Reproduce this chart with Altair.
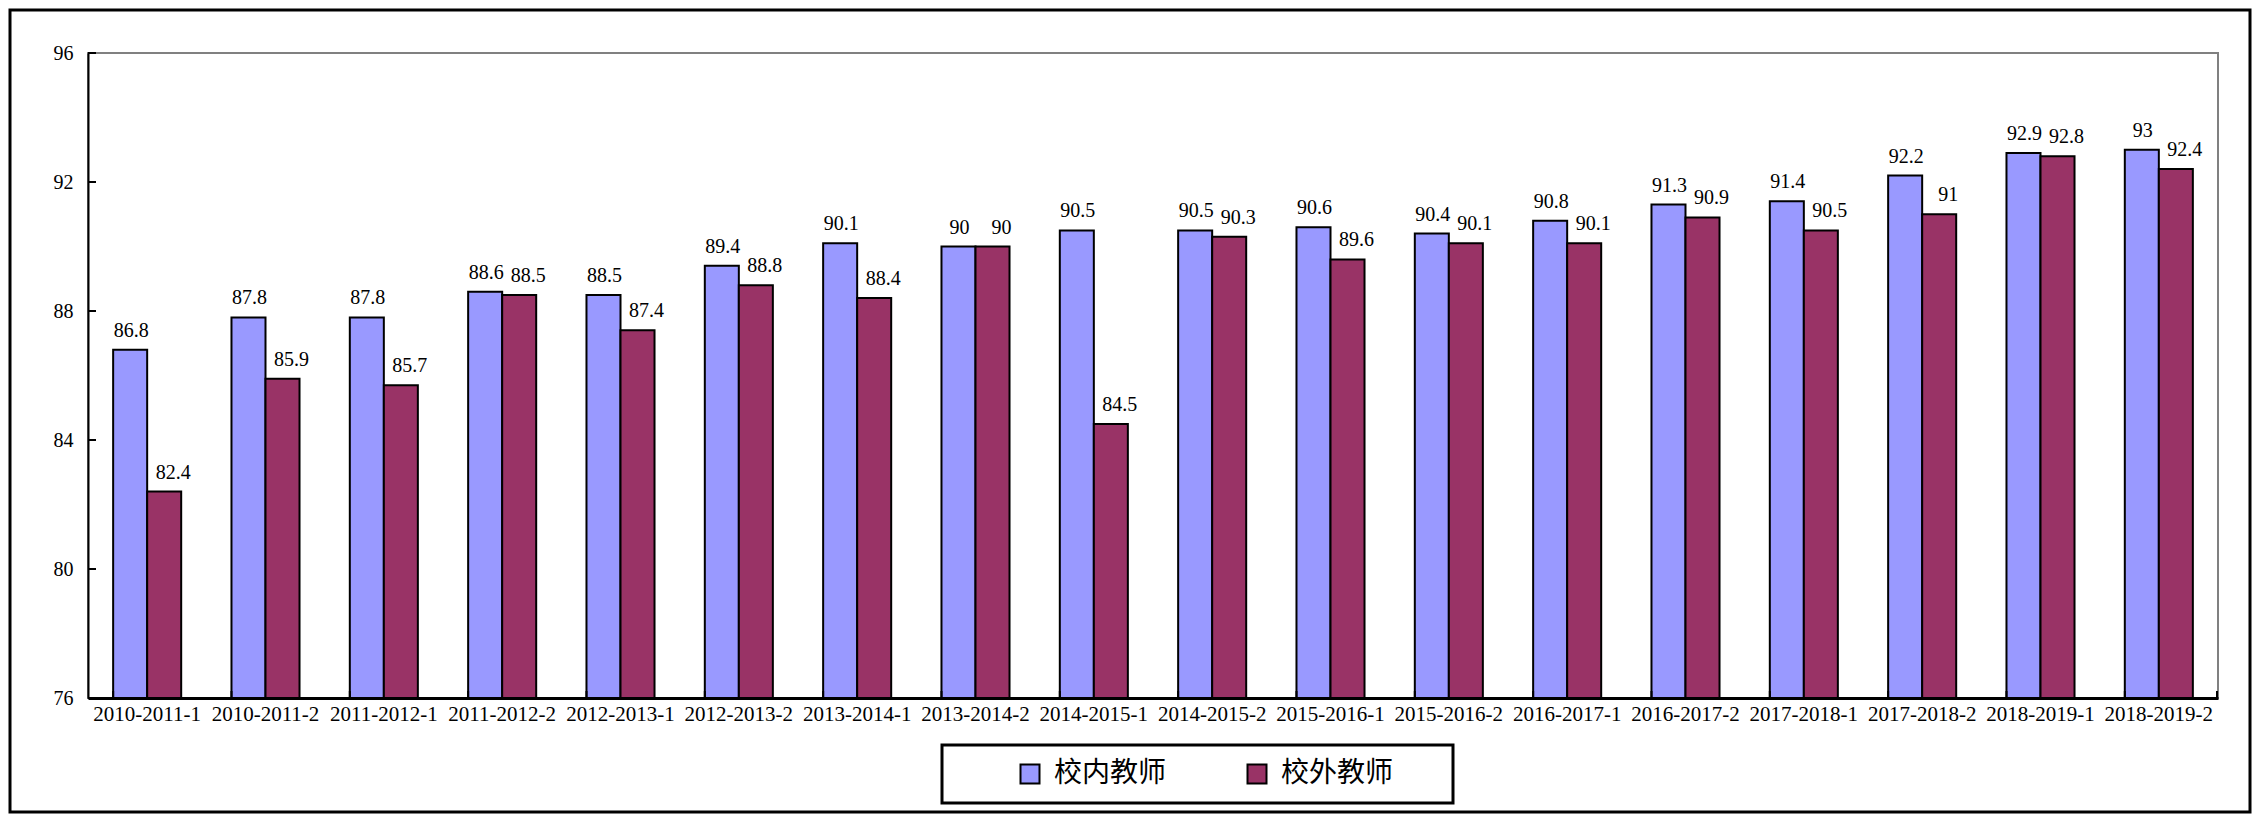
import altair as alt
import pandas as pd

categories = [
    "2010-2011-1", "2010-2011-2", "2011-2012-1", "2011-2012-2", "2012-2013-1",
    "2012-2013-2", "2013-2014-1", "2013-2014-2", "2014-2015-1", "2014-2015-2",
    "2015-2016-1", "2015-2016-2", "2016-2017-1", "2016-2017-2", "2017-2018-1",
    "2017-2018-2", "2018-2019-1", "2018-2019-2",
]
series_names = ["校内教师", "校外教师"]
inner_values = [86.8, 87.8, 87.8, 88.6, 88.5, 89.4, 90.1, 90, 90.5, 90.5,
                90.6, 90.4, 90.8, 91.3, 91.4, 92.2, 92.9, 93]
outer_values = [82.4, 85.9, 85.7, 88.5, 87.4, 88.8, 88.4, 90, 84.5, 90.3,
                89.6, 90.1, 90.1, 90.9, 90.5, 91, 92.8, 92.4]
series_colors = ["#9999FF", "#993366"]
y_ticks = [76, 80, 84, 88, 92, 96]

rows = []
for c, v in zip(categories, inner_values):
    rows.append({"cat": c, "series": series_names[0], "value": v, "label": f"{v:g}"})
for c, v in zip(categories, outer_values):
    rows.append({"cat": c, "series": series_names[1], "value": v, "label": f"{v:g}"})
df = pd.DataFrame(rows)
cat_df = pd.DataFrame({"cat": categories})
tick_df = pd.DataFrame({"tick": y_ticks})

W, H = 2130, 645
SERIF = "Liberation Serif"

x_enc = alt.X(
    "cat:N", sort=categories,
    scale=alt.Scale(paddingInner=0.425, paddingOuter=0.2125),
    axis=alt.Axis(title=None, labelAngle=0, ticks=False, labelFont=SERIF,
                  labelFontSize=21, labelColor="black", labelPadding=5,
                  domainColor="black", domainWidth=3, labelOverlap=False,
                  labelLimit=400),
)
xoff = alt.XOffset("series:N", sort=series_names,
                   scale=alt.Scale(paddingInner=0, paddingOuter=0))
y_scale = alt.Scale(domain=[76, 96], nice=False, zero=False)
y_enc = alt.Y(
    "value:Q", scale=y_scale,
    axis=alt.Axis(title=None, values=y_ticks, ticks=False, grid=False,
                  labelFont=SERIF, labelFontSize=20, labelColor="black",
                  labelPadding=15, domainColor="black", domainWidth=2),
)

base = alt.Chart(df)

bars = base.mark_bar(stroke="black", strokeWidth=2).encode(
    x=x_enc,
    xOffset=xoff,
    y=y_enc,
    y2=alt.datum(76),
    color=alt.Color(
        "series:N", sort=series_names,
        scale=alt.Scale(domain=series_names, range=series_colors),
        legend=alt.Legend(
            title=None, orient="none", legendX=928, legendY=707,
            direction="horizontal", symbolType="square", symbolSize=361,
            symbolStrokeColor="black", symbolStrokeWidth=2, symbolOpacity=1,
            labelFont="Noto Sans CJK SC", labelFontSize=28, labelColor="black",
            labelOffset=10, columnPadding=76, padding=0,
        ),
    ),
)

text_inner = base.transform_filter(
    alt.datum.series == series_names[0]
).mark_text(font=SERIF, fontSize=20, baseline="alphabetic", dy=-13, dx=1,
            color="black").encode(
    x=alt.X("cat:N", sort=categories), xOffset=xoff,
    y=alt.Y("value:Q", scale=y_scale), text="label:N",
)
text_outer = base.transform_filter(
    alt.datum.series == series_names[1]
).mark_text(font=SERIF, fontSize=20, baseline="alphabetic", dy=-13, dx=9,
            color="black").encode(
    x=alt.X("cat:N", sort=categories), xOffset=xoff,
    y=alt.Y("value:Q", scale=y_scale), text="label:N",
)

x_ticks = alt.Chart(cat_df).mark_rule(color="black", strokeWidth=2).encode(
    x=alt.X("cat:N", sort=categories, bandPosition=0),
    y=alt.value(H - 7), y2=alt.value(H),
)
x_end_tick = alt.Chart(cat_df.head(1)).mark_rule(color="black", strokeWidth=2).encode(
    x=alt.value(W - 1), y=alt.value(H - 7), y2=alt.value(H),
)
y_tick_marks = alt.Chart(tick_df).mark_rule(color="black", strokeWidth=2).encode(
    y=alt.Y("tick:Q", scale=y_scale), x=alt.value(0), x2=alt.value(8),
)

legend_box = alt.Chart(cat_df.head(1)).mark_rect(
    filled=False, stroke="black", strokeWidth=3
).encode(
    x=alt.value(854), x2=alt.value(1365), y=alt.value(692), y2=alt.value(750),
)
outer_box = alt.Chart(cat_df.head(1)).mark_rect(
    filled=False, stroke="black", strokeWidth=3
).encode(
    x=alt.value(-78), x2=alt.value(2162), y=alt.value(-43), y2=alt.value(759),
)

chart = alt.layer(
    bars, text_inner, text_outer, x_ticks, x_end_tick, y_tick_marks,
    legend_box, outer_box,
).properties(
    width=W, height=H,
    autosize=alt.AutoSizeParams(type="none"),
    padding={"left": 80, "top": 45, "right": 34, "bottom": 116},
    background="white",
).configure_view(
    stroke="#808080", strokeWidth=2
)

chart.save("out.html", embed_options={"renderer": "svg", "actions": False})
